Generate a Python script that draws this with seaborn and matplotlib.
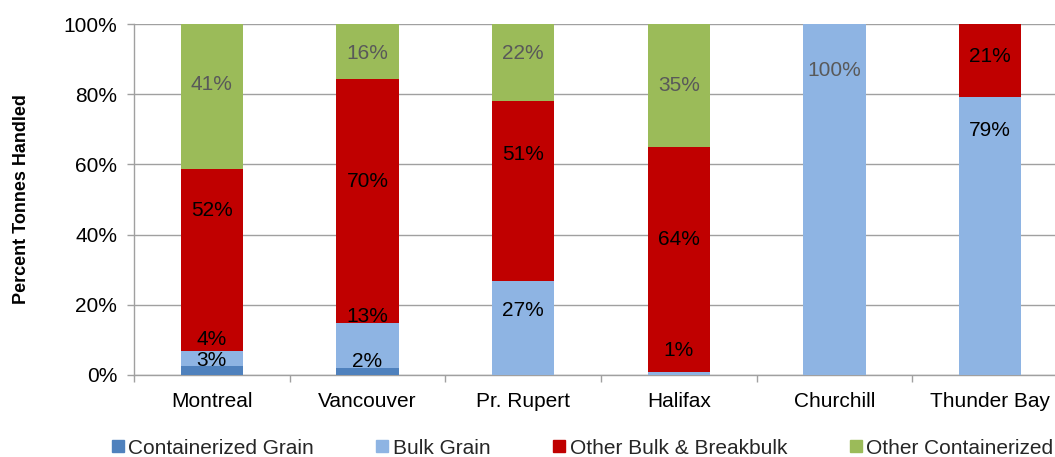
import matplotlib
matplotlib.use("Agg")
import matplotlib.pyplot as plt
from matplotlib.lines import Line2D
from matplotlib.ticker import FixedLocator, PercentFormatter
import pandas as pd
import seaborn as sns

ports = ["Montreal", "Vancouver", "Pr. Rupert", "Halifax", "Churchill", "Thunder Bay"]
series = ["Containerized Grain", "Bulk Grain", "Other Bulk & Breakbulk", "Other Containerized"]
colors = ["#4F81BD", "#8EB4E3", "#C00000", "#9BBB59"]

# share of tonnes handled (%)
containerized_grain = [2.7, 2.1, 0, 0, 0, 0]
bulk_grain = [4.2, 12.6, 26.8, 0.9, 100, 79.2]
other_bulk = [51.8, 69.6, 51.3, 64.1, 0, 20.8]
other_containerized = [41.3, 15.7, 21.9, 35.0, 0, 0]

# where the data labels sit in the original (percent), None = no label
cg_label_y = [4.0, 3.8, None, None, None, None]
bg_label_y = [10.0, 16.6, 18.5, 6.9, 86.7, 69.8]
ob_label_y = [47.0, 55.0, 62.7, 38.7, None, 90.7]
oc_label_y = [82.8, 91.6, 91.6, 82.6, None, None]

values = [containerized_grain, bulk_grain, other_bulk, other_containerized]
label_ys = [cg_label_y, bg_label_y, ob_label_y, oc_label_y]
label_colors = ["black", "black", "black", "#595959"]

sns.set_theme(style="white")
plt.rcParams["font.family"] = ["Liberation Sans", "DejaVu Sans"]

df = pd.DataFrame({"Port": ports})
for name, vals in zip(series, values):
    df[name] = vals
cum = df[series].cumsum(axis=1)

fig = plt.figure(figsize=(10.55, 4.57), dpi=100)
ax = fig.add_axes([134 / 1055, 82 / 457, 934 / 1055, 351 / 457])

# draw cumulative totals from the top down so each segment shows
for name, color in reversed(list(zip(series, colors))):
    sns.barplot(x=df["Port"], y=cum[name], color=color, saturation=1,
                width=0.4, linewidth=0, ax=ax, zorder=3)

for i, (vals, ys) in enumerate(zip(values, label_ys)):
    for j, (v, y) in enumerate(zip(vals, ys)):
        if y is None:
            continue
        c = label_colors[i]
        if v >= 100:
            c = "#595959"
        ax.text(j, y, f"{round(v)}%", ha="center", va="center",
                fontsize=15, color=c, zorder=5)

ax.set_xlim(-0.5, 5.5)
ax.set_ylim(0, 100)
ax.yaxis.set_major_locator(FixedLocator([0, 20, 40, 60, 80, 100]))
ax.yaxis.set_major_formatter(PercentFormatter(decimals=0))
ax.grid(axis="y", color="#A0A0A0", linewidth=1.0, zorder=0)
ax.set_axisbelow(True)

for side in ["top", "right"]:
    ax.spines[side].set_visible(False)
for side in ["left", "bottom"]:
    ax.spines[side].set_color("#A0A0A0")
    ax.spines[side].set_linewidth(1.0)

ax.xaxis.set_minor_locator(FixedLocator([k - 0.5 for k in range(7)]))
ax.tick_params(axis="x", which="major", length=0, pad=12, labelsize=15, labelcolor="black")
ax.tick_params(axis="x", which="minor", length=5, width=1.0, color="#A0A0A0", bottom=True)
ax.tick_params(axis="y", which="major", length=5, width=1.0, color="#A0A0A0",
               left=True, pad=7, labelsize=15, labelcolor="black")

ax.set_xlabel("")
ax.set_ylabel("Percent Tonnes Handled", fontsize=13, fontweight="bold", color="black", labelpad=24)

handles = [Line2D([], [], marker="s", ls="", color=c, markersize=8) for c in colors]
fig.legend(handles, series, loc="center", bbox_to_anchor=(0.552, 1 - 448 / 457), ncol=4,
           frameon=False, fontsize=15, handlelength=0.6, handletextpad=0.2,
           columnspacing=3.0, borderaxespad=0)

fig.savefig("out.png", dpi=100)
